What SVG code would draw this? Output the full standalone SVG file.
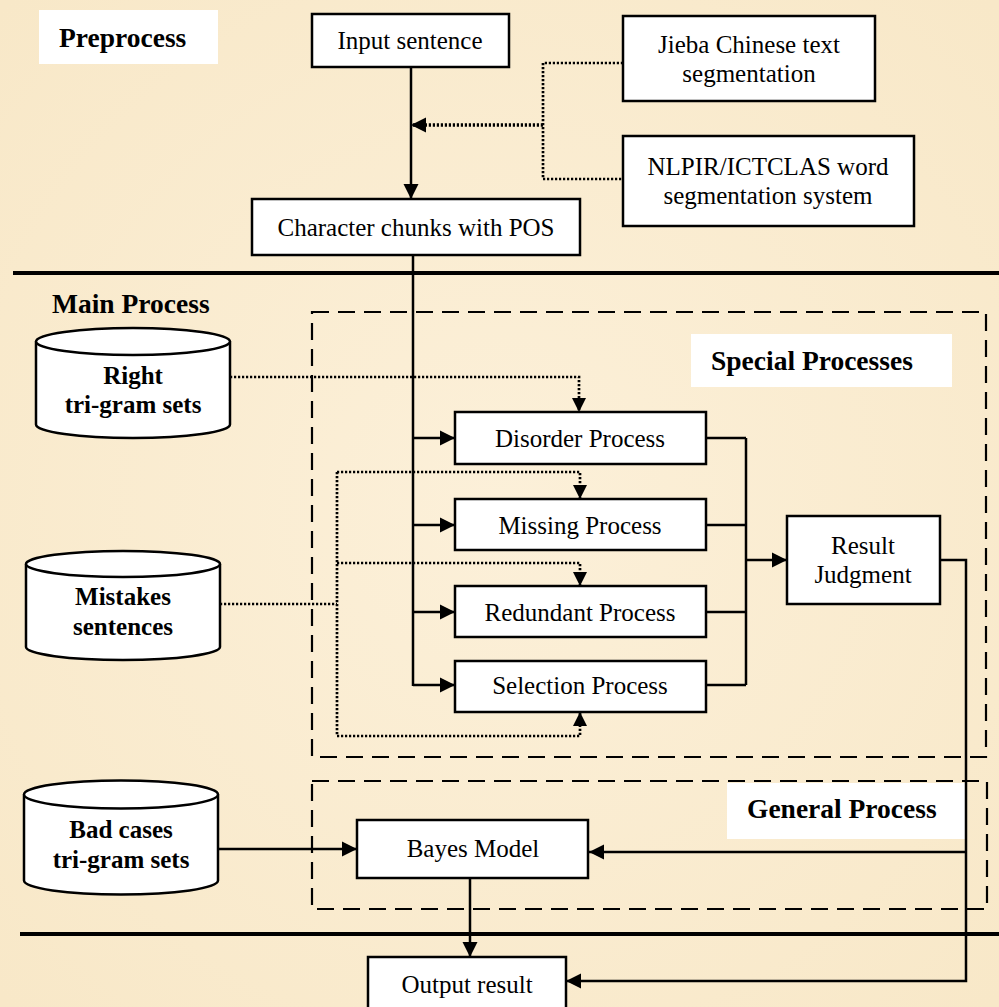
<svg xmlns="http://www.w3.org/2000/svg" width="999" height="1007" viewBox="0 0 999 1007">
<defs>
<style>
.box{fill:#fff;stroke:#000;stroke-width:2.5}
.lab{fill:#fff;stroke:none}
.t{font-family:"Liberation Serif","Times New Roman",serif;font-size:25px;fill:#000;text-anchor:middle}
.b{font-family:"Liberation Serif","Times New Roman",serif;font-size:27.5px;font-weight:bold;fill:#000}
.db{font-family:"Liberation Serif","Times New Roman",serif;font-size:25px;font-weight:bold;fill:#000;text-anchor:middle}
.ln{fill:none;stroke:#000;stroke-width:2.5}
.dot{fill:none;stroke:#000;stroke-width:2.7;stroke-dasharray:2.2 1.8}
.dash{fill:none;stroke:#000;stroke-width:2.2;stroke-dasharray:17 9}
.thick{fill:none;stroke:#000;stroke-width:4}
</style>
<marker id="ah" markerUnits="userSpaceOnUse" markerWidth="16" markerHeight="16" viewBox="0 0 16 16" refX="15" refY="8" orient="auto">
<path d="M0,0.5 L15,8 L0,15.5 z" fill="#000"/>
</marker>
<marker id="ahs" markerUnits="userSpaceOnUse" markerWidth="16" markerHeight="16" viewBox="0 0 16 16" refX="14" refY="8" orient="auto">
<path d="M0,1 L14,8 L0,15 z" fill="#000"/>
</marker>
<radialGradient id="bg" cx="50%" cy="50%" r="70%">
<stop offset="0" stop-color="#fcf0d9"/>
<stop offset="1" stop-color="#f8e8c8"/>
</radialGradient>
</defs>
<rect x="0" y="0" width="999" height="1007" fill="url(#bg)"/>

<g id="section-lines">
<path class="thick" d="M13,273 H999"/>
<path class="thick" d="M20,934 H999"/>
</g>

<g id="special-group">
<rect class="dash" x="312" y="312" width="674" height="445"/>
<rect class="lab" x="691" y="334" width="261" height="53"/>
<text class="b" x="711" y="370">Special Processes</text>
</g>
<g id="general-group">
<rect class="dash" x="312" y="781" width="675" height="128"/>
<rect class="lab" x="727" y="783" width="238" height="56"/>
<text class="b" x="747" y="818">General Process</text>
</g>

<g id="preprocess-label">
<rect class="lab" x="39" y="10" width="179" height="54"/>
<text class="b" x="59" y="47">Preprocess</text>
</g>
<g id="main-label">
<text class="b" x="52" y="313">Main Process</text>
</g>

<g id="connectors">
<path class="ln" d="M411,67 V199" marker-end="url(#ah)"/>
<path class="dot" d="M623,63 H543 V179 H623"/>
<path class="dot" style="stroke-width:3.4" d="M543,125 H411" marker-end="url(#ah)"/>
<path class="ln" d="M413,255 V686"/>
<path class="ln" d="M413,438 H455" marker-end="url(#ah)"/>
<path class="ln" d="M413,525 H455" marker-end="url(#ah)"/>
<path class="ln" d="M413,612 H455" marker-end="url(#ah)"/>
<path class="ln" d="M413,685 H455" marker-end="url(#ah)"/>
<path class="dot" d="M230,377 H579 V412" marker-end="url(#ahs)"/>
<path class="dot" d="M220,604 H337"/>
<path class="dot" d="M337,472 V736"/>
<path class="dot" d="M337,472 H580 V499" marker-end="url(#ahs)"/>
<path class="dot" d="M337,563 H580 V586" marker-end="url(#ahs)"/>
<path class="dot" d="M337,736 H580 V712" marker-end="url(#ahs)"/>
<path class="ln" d="M706,438 H746 M706,525 H746 M706,612 H746 M706,685 H746 M746,438 V685"/>
<path class="ln" d="M746,560 H787" marker-end="url(#ah)"/>
<path class="ln" d="M940,560 H966 V981 H566" marker-end="url(#ah)"/>
<path class="ln" d="M966,852 H589" marker-end="url(#ah)"/>
<path class="ln" d="M218,849 H357" marker-end="url(#ah)"/>
<path class="ln" d="M470,878 V957" marker-end="url(#ah)"/>
</g>

<g id="input-sentence">
<rect class="box" x="312" y="14" width="197" height="53"/>
<text class="t" x="410" y="49">Input sentence</text>
</g>
<g id="jieba">
<rect class="box" x="623" y="16" width="252" height="85"/>
<text class="t" x="749" y="53">Jieba Chinese text</text>
<text class="t" x="749" y="82">segmentation</text>
</g>
<g id="nlpir">
<rect class="box" x="623" y="136" width="291" height="90"/>
<text class="t" x="768" y="175">NLPIR/ICTCLAS word</text>
<text class="t" x="768" y="204">segmentation system</text>
</g>
<g id="chunks">
<rect class="box" x="252" y="199" width="328" height="56"/>
<text class="t" x="416" y="236">Character chunks with POS</text>
</g>

<g id="right-trigram">
<path class="box" d="M36,341.5 V424.5 A97,13.5 0 0 0 230,424.5 V341.5"/>
<ellipse class="box" cx="133" cy="341.5" rx="97" ry="13.5"/>
<text class="db" x="133" y="384">Right</text>
<text class="db" x="133" y="413">tri-gram sets</text>
</g>
<g id="mistakes">
<path class="box" d="M26,564 V647 A97,13 0 0 0 220,647 V564"/>
<ellipse class="box" cx="123" cy="564" rx="97" ry="13"/>
<text class="db" x="123" y="605">Mistakes</text>
<text class="db" x="123" y="635">sentences</text>
</g>
<g id="bad-cases">
<path class="box" d="M24,794.5 V880.5 A97,14 0 0 0 218,880.5 V794.5"/>
<ellipse class="box" cx="121" cy="794.5" rx="97" ry="14"/>
<text class="db" x="121" y="838">Bad cases</text>
<text class="db" x="121" y="868">tri-gram sets</text>
</g>

<g id="disorder">
<rect class="box" x="455" y="412" width="251" height="52"/>
<text class="t" x="580" y="447">Disorder Process</text>
</g>
<g id="missing">
<rect class="box" x="455" y="499" width="251" height="51"/>
<text class="t" x="580" y="534">Missing Process</text>
</g>
<g id="redundant">
<rect class="box" x="455" y="586" width="251" height="51"/>
<text class="t" x="580" y="621">Redundant Process</text>
</g>
<g id="selection">
<rect class="box" x="455" y="661" width="251" height="51"/>
<text class="t" x="580" y="694">Selection Process</text>
</g>
<g id="result-judgment">
<rect class="box" x="787" y="516" width="153" height="88"/>
<text class="t" x="863" y="554">Result</text>
<text class="t" x="863" y="583">Judgment</text>
</g>
<g id="bayes">
<rect class="box" x="357" y="820" width="231" height="58"/>
<text class="t" x="473" y="857">Bayes Model</text>
</g>
<g id="output">
<rect class="box" x="368" y="957" width="198" height="55"/>
<text class="t" x="467" y="993">Output result</text>
</g>
</svg>
